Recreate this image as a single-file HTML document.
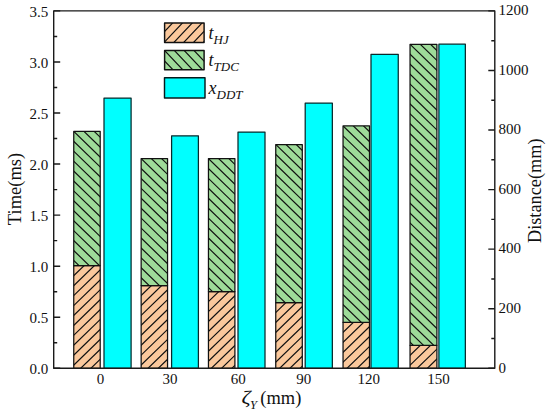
<!DOCTYPE html>
<html><head><meta charset="utf-8"><style>
html,body{margin:0;padding:0;background:#fff;}
body{width:550px;height:414px;overflow:hidden;font-family:"Liberation Serif",serif;}
svg{display:block;} rect{stroke-linejoin:round;}
</style></head><body><svg width="550" height="414" viewBox="0 0 550 414"><rect x="73.75" y="265.70" width="26.45" height="102.60" fill="#fac89c"/><clipPath id="c1"><rect x="73.75" y="265.70" width="26.45" height="102.60"/></clipPath><path clip-path="url(#c1)" d="M71.75 227.99L102.20 198.45M71.75 237.92L102.20 208.38M71.75 247.85L102.20 218.31M71.75 257.78L102.20 228.24M71.75 267.71L102.20 238.17M71.75 277.64L102.20 248.10M71.75 287.57L102.20 258.03M71.75 297.50L102.20 267.96M71.75 307.43L102.20 277.89M71.75 317.36L102.20 287.82M71.75 327.29L102.20 297.75M71.75 337.22L102.20 307.68M71.75 347.15L102.20 317.61M71.75 357.08L102.20 327.54M71.75 367.01L102.20 337.47M71.75 376.94L102.20 347.40M71.75 386.87L102.20 357.33M71.75 396.80L102.20 367.26M71.75 406.73L102.20 377.19M71.75 416.66L102.20 387.12" stroke="#111" stroke-width="1.2" fill="none"/><rect x="73.75" y="265.70" width="26.45" height="102.60" fill="none" stroke="#111" stroke-width="1.25"/><rect x="73.75" y="131.40" width="26.45" height="134.30" fill="#9edb99"/><clipPath id="c2"><rect x="73.75" y="131.40" width="26.45" height="134.30"/></clipPath><path clip-path="url(#c2)" d="M71.75 89.74L102.20 119.28M71.75 99.67L102.20 129.21M71.75 109.60L102.20 139.14M71.75 119.53L102.20 149.07M71.75 129.46L102.20 159.00M71.75 139.39L102.20 168.93M71.75 149.32L102.20 178.86M71.75 159.25L102.20 188.79M71.75 169.18L102.20 198.72M71.75 179.11L102.20 208.65M71.75 189.04L102.20 218.58M71.75 198.97L102.20 228.51M71.75 208.90L102.20 238.44M71.75 218.83L102.20 248.37M71.75 228.76L102.20 258.30M71.75 238.69L102.20 268.23M71.75 248.62L102.20 278.16M71.75 258.55L102.20 288.09M71.75 268.48L102.20 298.02M71.75 278.41L102.20 307.95M71.75 288.34L102.20 317.88M71.75 298.27L102.20 327.81M71.75 308.20L102.20 337.74" stroke="#111" stroke-width="1.2" fill="none"/><rect x="73.75" y="131.40" width="26.45" height="134.30" fill="none" stroke="#111" stroke-width="1.25"/><rect x="104.00" y="98.00" width="27.10" height="270.30" fill="#00ffff" stroke="#082a2c" stroke-width="1.25"/><rect x="141.15" y="285.50" width="26.40" height="82.80" fill="#fac89c"/><clipPath id="c3"><rect x="141.15" y="285.50" width="26.40" height="82.80"/></clipPath><path clip-path="url(#c3)" d="M139.15 247.79L169.55 218.30M139.15 257.72L169.55 228.23M139.15 267.65L169.55 238.16M139.15 277.58L169.55 248.09M139.15 287.51L169.55 258.02M139.15 297.44L169.55 267.95M139.15 307.37L169.55 277.88M139.15 317.30L169.55 287.81M139.15 327.23L169.55 297.74M139.15 337.16L169.55 307.67M139.15 347.09L169.55 317.60M139.15 357.02L169.55 327.53M139.15 366.95L169.55 337.46M139.15 376.88L169.55 347.39M139.15 386.81L169.55 357.32M139.15 396.74L169.55 367.25M139.15 406.67L169.55 377.18M139.15 416.60L169.55 387.11" stroke="#111" stroke-width="1.2" fill="none"/><rect x="141.15" y="285.50" width="26.40" height="82.80" fill="none" stroke="#111" stroke-width="1.25"/><rect x="141.15" y="158.60" width="26.40" height="126.90" fill="#9edb99"/><clipPath id="c4"><rect x="141.15" y="158.60" width="26.40" height="126.90"/></clipPath><path clip-path="url(#c4)" d="M139.15 116.94L169.55 146.43M139.15 126.87L169.55 156.36M139.15 136.80L169.55 166.29M139.15 146.73L169.55 176.22M139.15 156.66L169.55 186.15M139.15 166.59L169.55 196.08M139.15 176.52L169.55 206.01M139.15 186.45L169.55 215.94M139.15 196.38L169.55 225.87M139.15 206.31L169.55 235.80M139.15 216.24L169.55 245.73M139.15 226.17L169.55 255.66M139.15 236.10L169.55 265.59M139.15 246.03L169.55 275.52M139.15 255.96L169.55 285.45M139.15 265.89L169.55 295.38M139.15 275.82L169.55 305.31M139.15 285.75L169.55 315.24M139.15 295.68L169.55 325.17M139.15 305.61L169.55 335.10M139.15 315.54L169.55 345.03M139.15 325.47L169.55 354.96" stroke="#111" stroke-width="1.2" fill="none"/><rect x="141.15" y="158.60" width="26.40" height="126.90" fill="none" stroke="#111" stroke-width="1.25"/><rect x="171.60" y="135.80" width="26.80" height="232.50" fill="#00ffff" stroke="#082a2c" stroke-width="1.25"/><rect x="208.45" y="291.60" width="26.45" height="76.70" fill="#fac89c"/><clipPath id="c5"><rect x="208.45" y="291.60" width="26.45" height="76.70"/></clipPath><path clip-path="url(#c5)" d="M206.45 253.89L236.90 224.35M206.45 263.82L236.90 234.28M206.45 273.75L236.90 244.21M206.45 283.68L236.90 254.14M206.45 293.61L236.90 264.07M206.45 303.54L236.90 274.00M206.45 313.47L236.90 283.93M206.45 323.40L236.90 293.86M206.45 333.33L236.90 303.79M206.45 343.26L236.90 313.72M206.45 353.19L236.90 323.65M206.45 363.12L236.90 333.58M206.45 373.05L236.90 343.51M206.45 382.98L236.90 353.44M206.45 392.91L236.90 363.37M206.45 402.84L236.90 373.30M206.45 412.77L236.90 383.23" stroke="#111" stroke-width="1.2" fill="none"/><rect x="208.45" y="291.60" width="26.45" height="76.70" fill="none" stroke="#111" stroke-width="1.25"/><rect x="208.45" y="158.60" width="26.45" height="133.00" fill="#9edb99"/><clipPath id="c6"><rect x="208.45" y="158.60" width="26.45" height="133.00"/></clipPath><path clip-path="url(#c6)" d="M206.45 116.94L236.90 146.48M206.45 126.87L236.90 156.41M206.45 136.80L236.90 166.34M206.45 146.73L236.90 176.27M206.45 156.66L236.90 186.20M206.45 166.59L236.90 196.13M206.45 176.52L236.90 206.06M206.45 186.45L236.90 215.99M206.45 196.38L236.90 225.92M206.45 206.31L236.90 235.85M206.45 216.24L236.90 245.78M206.45 226.17L236.90 255.71M206.45 236.10L236.90 265.64M206.45 246.03L236.90 275.57M206.45 255.96L236.90 285.50M206.45 265.89L236.90 295.43M206.45 275.82L236.90 305.36M206.45 285.75L236.90 315.29M206.45 295.68L236.90 325.22M206.45 305.61L236.90 335.15M206.45 315.54L236.90 345.08M206.45 325.47L236.90 355.01M206.45 335.40L236.90 364.94" stroke="#111" stroke-width="1.2" fill="none"/><rect x="208.45" y="158.60" width="26.45" height="133.00" fill="none" stroke="#111" stroke-width="1.25"/><rect x="238.00" y="132.00" width="27.00" height="236.30" fill="#00ffff" stroke="#082a2c" stroke-width="1.25"/><rect x="275.75" y="302.50" width="26.55" height="65.80" fill="#fac89c"/><clipPath id="c7"><rect x="275.75" y="302.50" width="26.55" height="65.80"/></clipPath><path clip-path="url(#c7)" d="M273.75 254.86L304.30 225.23M273.75 264.79L304.30 235.16M273.75 274.72L304.30 245.09M273.75 284.65L304.30 255.02M273.75 294.58L304.30 264.95M273.75 304.51L304.30 274.88M273.75 314.44L304.30 284.81M273.75 324.37L304.30 294.74M273.75 334.30L304.30 304.67M273.75 344.23L304.30 314.60M273.75 354.16L304.30 324.53M273.75 364.09L304.30 334.46M273.75 374.02L304.30 344.39M273.75 383.95L304.30 354.32M273.75 393.88L304.30 364.25M273.75 403.81L304.30 374.18M273.75 413.74L304.30 384.11" stroke="#111" stroke-width="1.2" fill="none"/><rect x="275.75" y="302.50" width="26.55" height="65.80" fill="none" stroke="#111" stroke-width="1.25"/><rect x="275.75" y="144.50" width="26.55" height="158.00" fill="#9edb99"/><clipPath id="c8"><rect x="275.75" y="144.50" width="26.55" height="158.00"/></clipPath><path clip-path="url(#c8)" d="M273.75 102.84L304.30 132.47M273.75 112.77L304.30 142.40M273.75 122.70L304.30 152.33M273.75 132.63L304.30 162.26M273.75 142.56L304.30 172.19M273.75 152.49L304.30 182.12M273.75 162.42L304.30 192.05M273.75 172.35L304.30 201.98M273.75 182.28L304.30 211.91M273.75 192.21L304.30 221.84M273.75 202.14L304.30 231.77M273.75 212.07L304.30 241.70M273.75 222.00L304.30 251.63M273.75 231.93L304.30 261.56M273.75 241.86L304.30 271.49M273.75 251.79L304.30 281.42M273.75 261.72L304.30 291.35M273.75 271.65L304.30 301.28M273.75 281.58L304.30 311.21M273.75 291.51L304.30 321.14M273.75 301.44L304.30 331.07M273.75 311.37L304.30 341.00M273.75 321.30L304.30 350.93M273.75 331.23L304.30 360.86M273.75 341.16L304.30 370.79" stroke="#111" stroke-width="1.2" fill="none"/><rect x="275.75" y="144.50" width="26.55" height="158.00" fill="none" stroke="#111" stroke-width="1.25"/><rect x="305.20" y="103.00" width="27.15" height="265.30" fill="#00ffff" stroke="#082a2c" stroke-width="1.25"/><rect x="343.05" y="322.40" width="26.45" height="45.90" fill="#fac89c"/><clipPath id="c9"><rect x="343.05" y="322.40" width="26.45" height="45.90"/></clipPath><path clip-path="url(#c9)" d="M341.05 284.69L371.50 255.15M341.05 294.62L371.50 265.08M341.05 304.55L371.50 275.01M341.05 314.48L371.50 284.94M341.05 324.41L371.50 294.87M341.05 334.34L371.50 304.80M341.05 344.27L371.50 314.73M341.05 354.20L371.50 324.66M341.05 364.13L371.50 334.59M341.05 374.06L371.50 344.52M341.05 383.99L371.50 354.45M341.05 393.92L371.50 364.38M341.05 403.85L371.50 374.31M341.05 413.78L371.50 384.24" stroke="#111" stroke-width="1.2" fill="none"/><rect x="343.05" y="322.40" width="26.45" height="45.90" fill="none" stroke="#111" stroke-width="1.25"/><rect x="343.05" y="125.90" width="26.45" height="196.50" fill="#9edb99"/><clipPath id="c10"><rect x="343.05" y="125.90" width="26.45" height="196.50"/></clipPath><path clip-path="url(#c10)" d="M341.05 84.24L371.50 113.78M341.05 94.17L371.50 123.71M341.05 104.10L371.50 133.64M341.05 114.03L371.50 143.57M341.05 123.96L371.50 153.50M341.05 133.89L371.50 163.43M341.05 143.82L371.50 173.36M341.05 153.75L371.50 183.29M341.05 163.68L371.50 193.22M341.05 173.61L371.50 203.15M341.05 183.54L371.50 213.08M341.05 193.47L371.50 223.01M341.05 203.40L371.50 232.94M341.05 213.33L371.50 242.87M341.05 223.26L371.50 252.80M341.05 233.19L371.50 262.73M341.05 243.12L371.50 272.66M341.05 253.05L371.50 282.59M341.05 262.98L371.50 292.52M341.05 272.91L371.50 302.45M341.05 282.84L371.50 312.38M341.05 292.77L371.50 322.31M341.05 302.70L371.50 332.24M341.05 312.63L371.50 342.17M341.05 322.56L371.50 352.10M341.05 332.49L371.50 362.03M341.05 342.42L371.50 371.96M341.05 352.35L371.50 381.89M341.05 362.28L371.50 391.82" stroke="#111" stroke-width="1.2" fill="none"/><rect x="343.05" y="125.90" width="26.45" height="196.50" fill="none" stroke="#111" stroke-width="1.25"/><rect x="371.00" y="54.35" width="27.25" height="313.95" fill="#00ffff" stroke="#082a2c" stroke-width="1.25"/><rect x="410.05" y="345.30" width="26.85" height="23.00" fill="#fac89c"/><clipPath id="c11"><rect x="410.05" y="345.30" width="26.85" height="23.00"/></clipPath><path clip-path="url(#c11)" d="M408.05 297.66L438.90 267.74M408.05 307.59L438.90 277.67M408.05 317.52L438.90 287.60M408.05 327.45L438.90 297.53M408.05 337.38L438.90 307.46M408.05 347.31L438.90 317.39M408.05 357.24L438.90 327.32M408.05 367.17L438.90 337.25M408.05 377.10L438.90 347.18M408.05 387.03L438.90 357.11M408.05 396.96L438.90 367.04M408.05 406.89L438.90 376.97M408.05 416.82L438.90 386.90" stroke="#111" stroke-width="1.2" fill="none"/><rect x="410.05" y="345.30" width="26.85" height="23.00" fill="none" stroke="#111" stroke-width="1.25"/><rect x="410.05" y="44.30" width="26.85" height="301.00" fill="#9edb99"/><clipPath id="c12"><rect x="410.05" y="44.30" width="26.85" height="301.00"/></clipPath><path clip-path="url(#c12)" d="M408.05 -7.29L438.90 22.63M408.05 2.64L438.90 32.56M408.05 12.57L438.90 42.49M408.05 22.50L438.90 52.42M408.05 32.43L438.90 62.35M408.05 42.36L438.90 72.28M408.05 52.29L438.90 82.21M408.05 62.22L438.90 92.14M408.05 72.15L438.90 102.07M408.05 82.08L438.90 112.00M408.05 92.01L438.90 121.93M408.05 101.94L438.90 131.86M408.05 111.87L438.90 141.79M408.05 121.80L438.90 151.72M408.05 131.73L438.90 161.65M408.05 141.66L438.90 171.58M408.05 151.59L438.90 181.51M408.05 161.52L438.90 191.44M408.05 171.45L438.90 201.37M408.05 181.38L438.90 211.30M408.05 191.31L438.90 221.23M408.05 201.24L438.90 231.16M408.05 211.17L438.90 241.09M408.05 221.10L438.90 251.02M408.05 231.03L438.90 260.95M408.05 240.96L438.90 270.88M408.05 250.89L438.90 280.81M408.05 260.82L438.90 290.74M408.05 270.75L438.90 300.67M408.05 280.68L438.90 310.60M408.05 290.61L438.90 320.53M408.05 300.54L438.90 330.46M408.05 310.47L438.90 340.39M408.05 320.40L438.90 350.32M408.05 330.33L438.90 360.25M408.05 340.26L438.90 370.18M408.05 350.19L438.90 380.11M408.05 360.12L438.90 390.04M408.05 370.05L438.90 399.97M408.05 379.98L438.90 409.90M408.05 389.91L438.90 419.83" stroke="#111" stroke-width="1.2" fill="none"/><rect x="410.05" y="44.30" width="26.85" height="301.00" fill="none" stroke="#111" stroke-width="1.25"/><rect x="438.90" y="44.20" width="26.45" height="324.10" fill="#00ffff" stroke="#082a2c" stroke-width="1.25"/><rect x="53.7" y="10.9" width="441.10" height="357.40" fill="none" stroke="#1a1a1a" stroke-width="1.4"/><path d="M53.70 368.30H60.20M53.70 342.77H57.20M53.70 317.24H60.20M53.70 291.71H57.20M53.70 266.19H60.20M53.70 240.66H57.20M53.70 215.13H60.20M53.70 189.60H57.20M53.70 164.07H60.20M53.70 138.54H57.20M53.70 113.01H60.20M53.70 87.49H57.20M53.70 61.96H60.20M53.70 36.43H57.20M53.70 10.90H60.20M494.80 368.30H488.30M494.80 338.52H491.30M494.80 308.73H488.30M494.80 278.95H491.30M494.80 249.17H488.30M494.80 219.38H491.30M494.80 189.60H488.30M494.80 159.82H491.30M494.80 130.03H488.30M494.80 100.25H491.30M494.80 70.47H488.30M494.80 40.68H491.30M494.80 10.90H488.30" stroke="#1a1a1a" stroke-width="1.4" fill="none"/><g font-family="Liberation Serif" font-size="15" fill="#111"><text x="48.3" y="374.40" text-anchor="end">0.0</text><text x="48.3" y="323.34" text-anchor="end">0.5</text><text x="48.3" y="272.29" text-anchor="end">1.0</text><text x="48.3" y="221.23" text-anchor="end">1.5</text><text x="48.3" y="170.17" text-anchor="end">2.0</text><text x="48.3" y="119.11" text-anchor="end">2.5</text><text x="48.3" y="68.06" text-anchor="end">3.0</text><text x="48.3" y="17.00" text-anchor="end">3.5</text><text x="498.4" y="372.60">0</text><text x="498.4" y="313.03">200</text><text x="498.4" y="253.47">400</text><text x="498.4" y="193.90">600</text><text x="498.4" y="134.33">800</text><text x="498.4" y="74.77">1000</text><text x="498.4" y="15.20">1200</text><text x="100.5" y="383.8" text-anchor="middle">0</text><text x="169.95" y="383.8" text-anchor="middle">30</text><text x="238.25" y="383.8" text-anchor="middle">60</text><text x="303.75" y="383.8" text-anchor="middle">90</text><text x="368.8" y="383.8" text-anchor="middle">120</text><text x="438.4" y="383.8" text-anchor="middle">150</text></g><text x="20.8" y="189" transform="rotate(-90 20.8 189)" text-anchor="middle" font-family="Liberation Serif" font-size="18.5" fill="#111">Time(ms)</text><g font-family="Liberation Serif" fill="#111"><text x="0" y="0" font-size="18" font-style="italic" transform="translate(241.4 404.2) scale(1.25 1)">ζ</text><text x="250.0" y="408.6" font-size="12.5" font-style="italic">Y</text><text x="0" y="0" font-size="18" transform="translate(260.3 404.1) scale(1.025 1)">(mm)</text></g><text x="541.3" y="190.75" transform="rotate(-90 541.3 190.75)" text-anchor="middle" font-family="Liberation Serif" font-size="18.3" fill="#111">Distance(mm)</text><rect x="164.60" y="23.00" width="39.50" height="19.40" fill="#fac89c"/><clipPath id="c13"><rect x="164.60" y="23.00" width="39.50" height="19.40"/></clipPath><path clip-path="url(#c13)" d="M162.60 -39.18L206.10 -85.29M162.60 -28.78L206.10 -74.89M162.60 -18.38L206.10 -64.49M162.60 -7.98L206.10 -54.09M162.60 2.42L206.10 -43.69M162.60 12.82L206.10 -33.29M162.60 23.22L206.10 -22.89M162.60 33.62L206.10 -12.49M162.60 44.02L206.10 -2.09M162.60 54.42L206.10 8.31M162.60 64.82L206.10 18.71M162.60 75.22L206.10 29.11M162.60 85.62L206.10 39.51M162.60 96.02L206.10 49.91M162.60 106.42L206.10 60.31" stroke="#111" stroke-width="1.2" fill="none"/><rect x="164.60" y="23.00" width="39.50" height="19.40" fill="none" stroke="#111" stroke-width="1.45"/><rect x="164.60" y="50.50" width="39.50" height="19.30" fill="#9edb99"/><clipPath id="c14"><rect x="164.60" y="50.50" width="39.50" height="19.30"/></clipPath><path clip-path="url(#c14)" d="M162.60 -14.02L206.10 32.09M162.60 -3.62L206.10 42.49M162.60 6.78L206.10 52.89M162.60 17.18L206.10 63.29M162.60 27.58L206.10 73.69M162.60 37.98L206.10 84.09M162.60 48.38L206.10 94.49M162.60 58.78L206.10 104.89M162.60 69.18L206.10 115.29M162.60 79.58L206.10 125.69M162.60 89.98L206.10 136.09M162.60 100.38L206.10 146.49M162.60 110.78L206.10 156.89M162.60 121.18L206.10 167.29M162.60 131.58L206.10 177.69" stroke="#111" stroke-width="1.2" fill="none"/><rect x="164.60" y="50.50" width="39.50" height="19.30" fill="none" stroke="#111" stroke-width="1.45"/><rect x="164.5" y="77.8" width="40.50" height="20.10" fill="#00ffff" stroke="#061c1e" stroke-width="1.45"/><text x="208.5" y="39.3" font-family="Liberation Serif" font-style="italic" fill="#111"><tspan font-size="18">t</tspan><tspan font-size="13" dy="5">HJ</tspan></text><text x="208.5" y="66.3" font-family="Liberation Serif" font-style="italic" fill="#111"><tspan font-size="18">t</tspan><tspan font-size="13" dy="5">TDC</tspan></text><text x="208.5" y="93.8" font-family="Liberation Serif" font-style="italic" fill="#111"><tspan font-size="18">x</tspan><tspan font-size="13" dy="5">DDT</tspan></text></svg></body></html>
